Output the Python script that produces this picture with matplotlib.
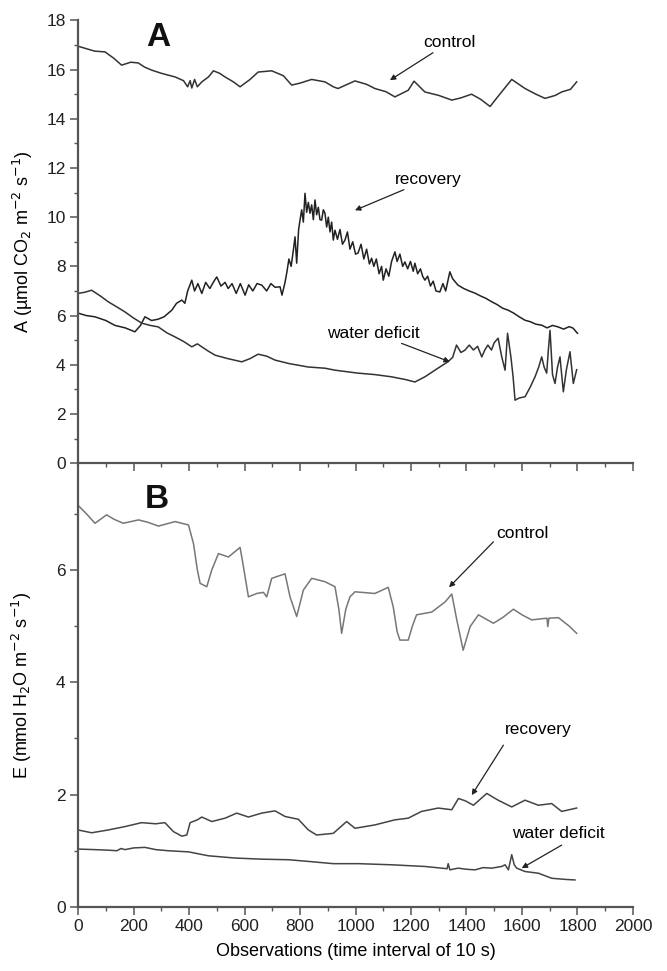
import matplotlib
matplotlib.use("Agg")
import matplotlib.pyplot as plt
from matplotlib.ticker import MultipleLocator

plt.rcParams['font.family'] = ['Liberation Sans', 'DejaVu Sans']

# ---- panel A: net photosynthesis ----
a_control_x = [0, 30, 60, 97, 130, 157, 190, 217, 240, 265, 300, 350, 380, 395, 404, 410, 420, 430,
               446, 470, 488, 510, 530, 560, 584, 620, 649, 698, 740, 770, 800, 842, 890, 920, 937,
               998, 1040, 1070, 1110, 1142, 1190, 1211, 1250, 1300, 1347, 1380, 1418, 1450, 1485,
               1520, 1563, 1611, 1650, 1683, 1720, 1743, 1775, 1797]
a_control_y = [16.95, 16.85, 16.75, 16.72, 16.45, 16.18, 16.3, 16.27, 16.1, 15.98, 15.85, 15.7, 15.55,
               15.3, 15.55, 15.25, 15.6, 15.3, 15.5, 15.7, 15.95, 15.85, 15.7, 15.5, 15.3, 15.6, 15.9,
               15.95, 15.75, 15.37, 15.45, 15.6, 15.5, 15.3, 15.23, 15.54, 15.4, 15.23, 15.1, 14.89,
               15.16, 15.53, 15.09, 14.95, 14.76, 14.85, 15.0, 14.8, 14.5, 15.0, 15.6, 15.23, 15.0,
               14.83, 14.95, 15.09, 15.2, 15.5]

a_recovery_x = [0, 30, 61, 100, 133, 170, 205, 225, 241, 265, 288, 310, 338, 355, 374, 385, 395, 410,
                420, 432, 446, 460, 475, 490, 500, 515, 530, 541, 555, 570, 585, 602, 615, 630, 645,
                662, 680, 695, 710, 728, 735, 745, 752, 760, 768, 776, 782, 788, 795, 800, 806, 812,
                818, 824, 830, 836, 842, 848, 854, 860, 866, 872, 878, 884, 890, 896, 902, 908, 914,
                920, 926, 935, 944, 953, 962, 971, 980, 990, 1000, 1009, 1020, 1030, 1040, 1050, 1058,
                1066, 1075, 1085, 1094, 1100, 1110, 1120, 1130, 1142, 1150, 1160, 1170, 1178, 1188,
                1198, 1208, 1214, 1224, 1234, 1242, 1250, 1260, 1270, 1280, 1290, 1304, 1315, 1325,
                1340, 1350, 1369, 1390, 1410, 1431, 1450, 1470, 1491, 1510, 1530, 1550, 1570, 1590,
                1611, 1630, 1650, 1671, 1690, 1710, 1730, 1750, 1770, 1784, 1800]
a_recovery_y = [6.1, 6.0, 5.95, 5.8, 5.6, 5.5, 5.34, 5.6, 5.95, 5.8, 5.85, 5.95, 6.22, 6.5, 6.63, 6.5,
                7.0, 7.44, 7.0, 7.3, 6.9, 7.35, 7.1, 7.4, 7.57, 7.2, 7.35, 7.1, 7.3, 6.9, 7.3, 6.83,
                7.25, 7.0, 7.3, 7.24, 7.0, 7.3, 7.15, 7.17, 6.83, 7.3, 7.72, 8.3, 8.0, 8.66, 9.2, 8.13,
                9.5, 9.88, 10.3, 9.8, 10.97, 10.2, 10.6, 10.16, 10.5, 9.9, 10.7, 10.1, 10.4, 9.9, 9.88,
                10.3, 10.16, 9.6, 10.0, 9.4, 9.8, 9.07, 9.47, 9.1, 9.5, 8.9, 9.07, 9.4, 8.7, 9.0, 8.5,
                8.54, 8.9, 8.3, 8.7, 8.1, 8.33, 8.0, 8.3, 7.7, 8.0, 7.44, 7.9, 7.6, 8.2, 8.59, 8.2, 8.5,
                8.0, 8.18, 7.9, 8.2, 7.8, 8.13, 7.7, 7.9, 7.6, 7.44, 7.6, 7.2, 7.4, 7.0, 6.96, 7.3, 7.0,
                7.78, 7.5, 7.24, 7.1, 7.0, 6.91, 6.8, 6.7, 6.56, 6.45, 6.3, 6.22, 6.1, 5.95, 5.81, 5.75,
                5.65, 5.61, 5.5, 5.6, 5.54, 5.45, 5.55, 5.49, 5.28]

a_deficit_x = [0, 25, 49, 80, 109, 140, 169, 200, 230, 260, 289, 320, 350, 380, 410, 430, 446, 470,
               494, 540, 590, 620, 649, 680, 710, 760, 829, 890, 926, 1009, 1070, 1130, 1180, 1214,
               1250, 1297, 1333, 1350, 1364, 1380, 1394, 1410, 1425, 1440, 1455, 1466, 1477, 1490,
               1500, 1514, 1527, 1539, 1548, 1560, 1568, 1575, 1590, 1611, 1630, 1647, 1660, 1671,
               1680, 1689, 1695, 1701, 1710, 1719, 1728, 1737, 1743, 1749, 1760, 1773, 1785, 1797]
a_deficit_y = [6.9, 6.95, 7.03, 6.8, 6.56, 6.35, 6.15, 5.9, 5.69, 5.6, 5.54, 5.3, 5.13, 4.95, 4.73,
               4.85, 4.73, 4.55, 4.39, 4.25, 4.12, 4.25, 4.43, 4.35, 4.19, 4.05, 3.91, 3.86, 3.78,
               3.66, 3.6, 3.51, 3.4, 3.3, 3.51, 3.86, 4.12, 4.3, 4.8, 4.5, 4.59, 4.8, 4.6, 4.75, 4.32,
               4.6, 4.8, 4.6, 4.9, 5.08, 4.32, 3.78, 5.28, 4.32, 3.5, 2.56, 2.65, 2.7, 3.1, 3.51, 3.9,
               4.32, 3.9, 3.66, 4.6, 5.4, 3.6, 3.24, 3.9, 4.32, 3.6, 2.9, 3.8, 4.53, 3.24, 3.8]

# ---- panel B: transpiration ----
e_control_x = [0, 30, 61, 103, 130, 163, 218, 250, 290, 350, 398, 416, 430, 440, 464, 482, 506, 542,
               584, 596, 614, 644, 668, 680, 698, 746, 764, 788, 812, 842, 890, 926, 940, 950, 965,
               980, 998, 1070, 1118, 1136, 1150, 1160, 1190, 1205, 1220, 1275, 1323, 1347, 1365,
               1388, 1413, 1443, 1497, 1530, 1569, 1600, 1635, 1690, 1693, 1697, 1731, 1770, 1797]
e_control_y = [7.15, 7.0, 6.83, 6.98, 6.9, 6.83, 6.89, 6.85, 6.78, 6.86, 6.8, 6.47, 6.0, 5.76, 5.7,
               6.0, 6.29, 6.23, 6.4, 6.06, 5.52, 5.58, 5.6, 5.52, 5.85, 5.93, 5.52, 5.17, 5.64, 5.85,
               5.79, 5.7, 5.3, 4.87, 5.3, 5.52, 5.61, 5.58, 5.69, 5.34, 4.9, 4.75, 4.75, 5.0, 5.2,
               5.25, 5.43, 5.57, 5.11, 4.57, 4.99, 5.2, 5.05, 5.15, 5.3, 5.2, 5.11, 5.14, 4.99, 5.14,
               5.15, 5.0, 4.87]

e_recovery_x = [0, 49, 109, 169, 229, 280, 313, 344, 374, 392, 404, 430, 446, 482, 530, 572, 614,
                662, 710, 746, 794, 830, 860, 920, 968, 998, 1070, 1142, 1190, 1238, 1298, 1347,
                1371, 1395, 1425, 1473, 1514, 1563, 1611, 1659, 1707, 1743, 1797]
e_recovery_y = [1.37, 1.32, 1.37, 1.43, 1.5, 1.48, 1.5, 1.34, 1.26, 1.28, 1.5, 1.55, 1.6, 1.52, 1.58,
                1.67, 1.6, 1.67, 1.71, 1.61, 1.56, 1.37, 1.28, 1.31, 1.52, 1.4, 1.46, 1.55, 1.58, 1.7,
                1.76, 1.73, 1.93, 1.89, 1.81, 2.02, 1.9, 1.78, 1.9, 1.81, 1.84, 1.7, 1.76]

e_deficit_x = [0, 60, 109, 140, 155, 169, 200, 241, 280, 325, 398, 470, 566, 662, 758, 830, 920,
               1010, 1130, 1250, 1330, 1334, 1340, 1370, 1400, 1431, 1460, 1491, 1527, 1539, 1551,
               1563, 1572, 1581, 1611, 1659, 1707, 1755, 1791]
e_deficit_y = [1.03, 1.02, 1.01, 1.0, 1.04, 1.02, 1.05, 1.06, 1.02, 1.0, 0.98, 0.91, 0.87, 0.85, 0.84,
               0.81, 0.77, 0.77, 0.75, 0.72, 0.68, 0.77, 0.66, 0.69, 0.67, 0.66, 0.7, 0.69, 0.72,
               0.75, 0.66, 0.93, 0.75, 0.69, 0.63, 0.6, 0.51, 0.49, 0.48]

x_ticks = [0, 200, 400, 600, 800, 1000, 1200, 1400, 1600, 1800, 2000]

fig = plt.figure(figsize=(6.67, 9.71), dpi=100)
ax2 = fig.add_axes([0.117, 0.066, 0.832, 0.457])
ax1 = fig.add_axes([0.117, 0.523, 0.832, 0.456])
ax1.patch.set_alpha(0)
ax2.patch.set_alpha(0)

axis_grey = '#555555'


def style_axis(ax):
    for s in ['top', 'right']:
        ax.spines[s].set_visible(False)
    for s in ['left', 'bottom']:
        ax.spines[s].set_color(axis_grey)
        ax.spines[s].set_linewidth(1.6)
    ax.set_xlim(0, 2000)
    ax.set_xticks(x_ticks)
    ax.xaxis.set_minor_locator(MultipleLocator(100))
    ax.tick_params(which='major', direction='out', length=6, width=1.1, color=axis_grey,
                   labelsize=12.5, labelcolor='#222222', pad=3)
    ax.tick_params(which='minor', direction='out', length=3, width=1.0, color=axis_grey)


style_axis(ax1)
style_axis(ax2)

# top panel
ax1.plot(a_control_x, a_control_y, color='#333333', lw=1.1)
ax1.plot(a_recovery_x, a_recovery_y, color='#222222', lw=1.1)
ax1.plot(a_deficit_x, a_deficit_y, color='#333333', lw=1.1)
ax1.set_ylim(0, 18)
ax1.set_yticks(range(0, 19, 2))
ax1.yaxis.set_minor_locator(MultipleLocator(1))
ax1.tick_params(axis='x', labelbottom=False)
ax1.set_ylabel('A (µmol CO$_2$ m$^{-2}$ s$^{-1}$)', fontsize=13, labelpad=8)
ax1.text(288, 17.3, 'A', fontsize=24, fontweight='bold', ha='center', va='center', color='#111111')

arrow = dict(arrowstyle='-|>', color='#222222', lw=0.9, mutation_scale=8, shrinkA=0, shrinkB=0)
ax1.annotate('control', xy=(1124, 15.57), xytext=(1243, 16.8), fontsize=12.5,
             va='bottom', ha='left', arrowprops=arrow)
ax1.annotate('recovery', xy=(998, 10.28), xytext=(1142, 11.23), fontsize=12.5,
             va='bottom', ha='left', arrowprops=arrow)
ax1.text(897, 5.27, 'water deficit', fontsize=12.5, va='center', ha='left')
ax1.annotate('', xy=(1340, 4.12), xytext=(1166, 4.87), arrowprops=arrow)

# bottom panel
ax2.plot(e_control_x, e_control_y, color='#777777', lw=1.1)
ax2.plot(e_recovery_x, e_recovery_y, color='#444444', lw=1.1)
ax2.plot(e_deficit_x, e_deficit_y, color='#444444', lw=1.1)
ax2.set_ylim(0, 7.9)
ax2.set_yticks([0, 2, 4, 6])
ax2.yaxis.set_minor_locator(MultipleLocator(1))
ax2.set_ylabel('E (mmol H$_2$O m$^{-2}$ s$^{-1}$)', fontsize=13, labelpad=16)
ax2.set_xlabel('Observations (time interval of 10 s)', fontsize=13, labelpad=6)
ax2.text(283, 7.26, 'B', fontsize=24, fontweight='bold', ha='center', va='center', color='#111111')

ax2.text(1509, 6.65, 'control', fontsize=12.5, va='center', ha='left')
ax2.annotate('', xy=(1337, 5.69), xytext=(1497, 6.5), arrowprops=arrow)
ax2.text(1539, 3.15, 'recovery', fontsize=12.5, va='center', ha='left')
ax2.annotate('', xy=(1419, 1.99), xytext=(1533, 2.88), arrowprops=arrow)
ax2.text(1563, 1.31, 'water deficit', fontsize=12.5, va='center', ha='left')
ax2.annotate('', xy=(1599, 0.69), xytext=(1743, 1.1), arrowprops=arrow)

fig.savefig('out.png', dpi=100)
